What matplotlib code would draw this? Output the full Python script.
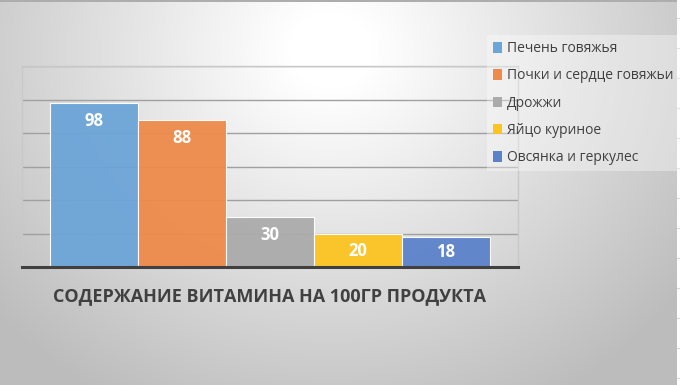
import numpy as np
import matplotlib
matplotlib.use("Agg")
import matplotlib.pyplot as plt
from matplotlib.patches import Patch

categories = ["Печень говяжья", "Почки и сердце говяжьи", "Дрожжи", "Яйцо куриное", "Овсянка и геркулес"]
values = [98, 88, 30, 20, 18]
colors = ["#6CA5D8", "#EE8A4A", "#ABABAB", "#FCC420", "#5B82C9"]
title = "СОДЕРЖАНИЕ ВИТАМИНА НА 100ГР ПРОДУКТА"

plt.rcParams['font.family'] = ['Open Sans', 'DejaVu Sans']

W, H = 680, 385
fig = plt.figure(figsize=(W / 100, H / 100), dpi=100)

# radial gradient background
bg = fig.add_axes([0, 0, 1, 1], zorder=-10)
yy, xx = np.mgrid[0:H, 0:W]
cx, cy = 330, 50
r = np.sqrt(((xx - cx) / 1.05) ** 2 + ((yy - cy) / 0.95) ** 2)
t = np.clip((r - 40) / 380, 0, 1)
shade = 1.0 - 0.26 * t
img = np.dstack([shade, shade, shade])
img[0:2, :, :] = 0.68
img[:, 677:, :] = 1.0
bg.imshow(img, extent=[0, W, H, 0], aspect='auto')
for yline in range(18, H, 30):
    bg.plot([677, W], [yline, yline], color='#D8D8D8', lw=0.8)
bg.set_xlim(0, W)
bg.set_ylim(H, 0)
bg.axis('off')

# main axes
L, R, T, B = 22, 518, 66, 267
ax = fig.add_axes([L / W, 1 - B / H, (R - L) / W, (B - T) / H])
ax.patch.set_alpha(0)
x = np.arange(len(values))
bars = ax.bar(x, values, width=1.0, color=colors, edgecolor='white', linewidth=0.8,
              alpha=0.95, zorder=3)
gap = 0.32
ax.set_xlim(-0.5 - gap, len(values) - 0.5 + gap)
ax.set_ylim(0, 120)
ax.set_yticks(np.arange(0, 121, 20))
ax.set_xticks([])
ax.tick_params(axis='y', length=0, labelleft=False)
ax.grid(axis='y', color='#A0A0A0', linewidth=1.0, zorder=0)
for side in ['left', 'right', 'top']:
    ax.spines[side].set_color('#C8C8C8')
    ax.spines[side].set_linewidth(1.0)
ax.spines['bottom'].set_color('#404040')
ax.spines['bottom'].set_linewidth(2.2)
ax.spines['bottom'].set_zorder(5)

for xi, v in zip(x, values):
    ly = max(v - 10.7, 9)
    ax.text(xi, ly, str(v), ha='center', va='center', color='white',
            fontsize=12, fontweight='bold', zorder=6)

fig.text((53 + 486) / 2 / W, 1 - 296 / H, title, ha='center', va='center',
         fontsize=13, fontweight='bold', color='#404040')

handles = [Patch(facecolor=c, edgecolor='none') for c in colors]
leg = fig.legend(handles, categories, loc='upper left',
                 bbox_to_anchor=(487 / W, 1 - 35 / H), frameon=True, borderaxespad=0,
                 fontsize=10, handlelength=0.6, handleheight=0.8, handletextpad=0.4,
                 labelspacing=0.88, borderpad=0.45, labelcolor='#404040')
leg.get_frame().set_facecolor('white')
leg.get_frame().set_alpha(0.35)
leg.get_frame().set_edgecolor('none')
leg.get_frame().set_boxstyle('square', pad=0)

fig.savefig('out.png', dpi=100)
